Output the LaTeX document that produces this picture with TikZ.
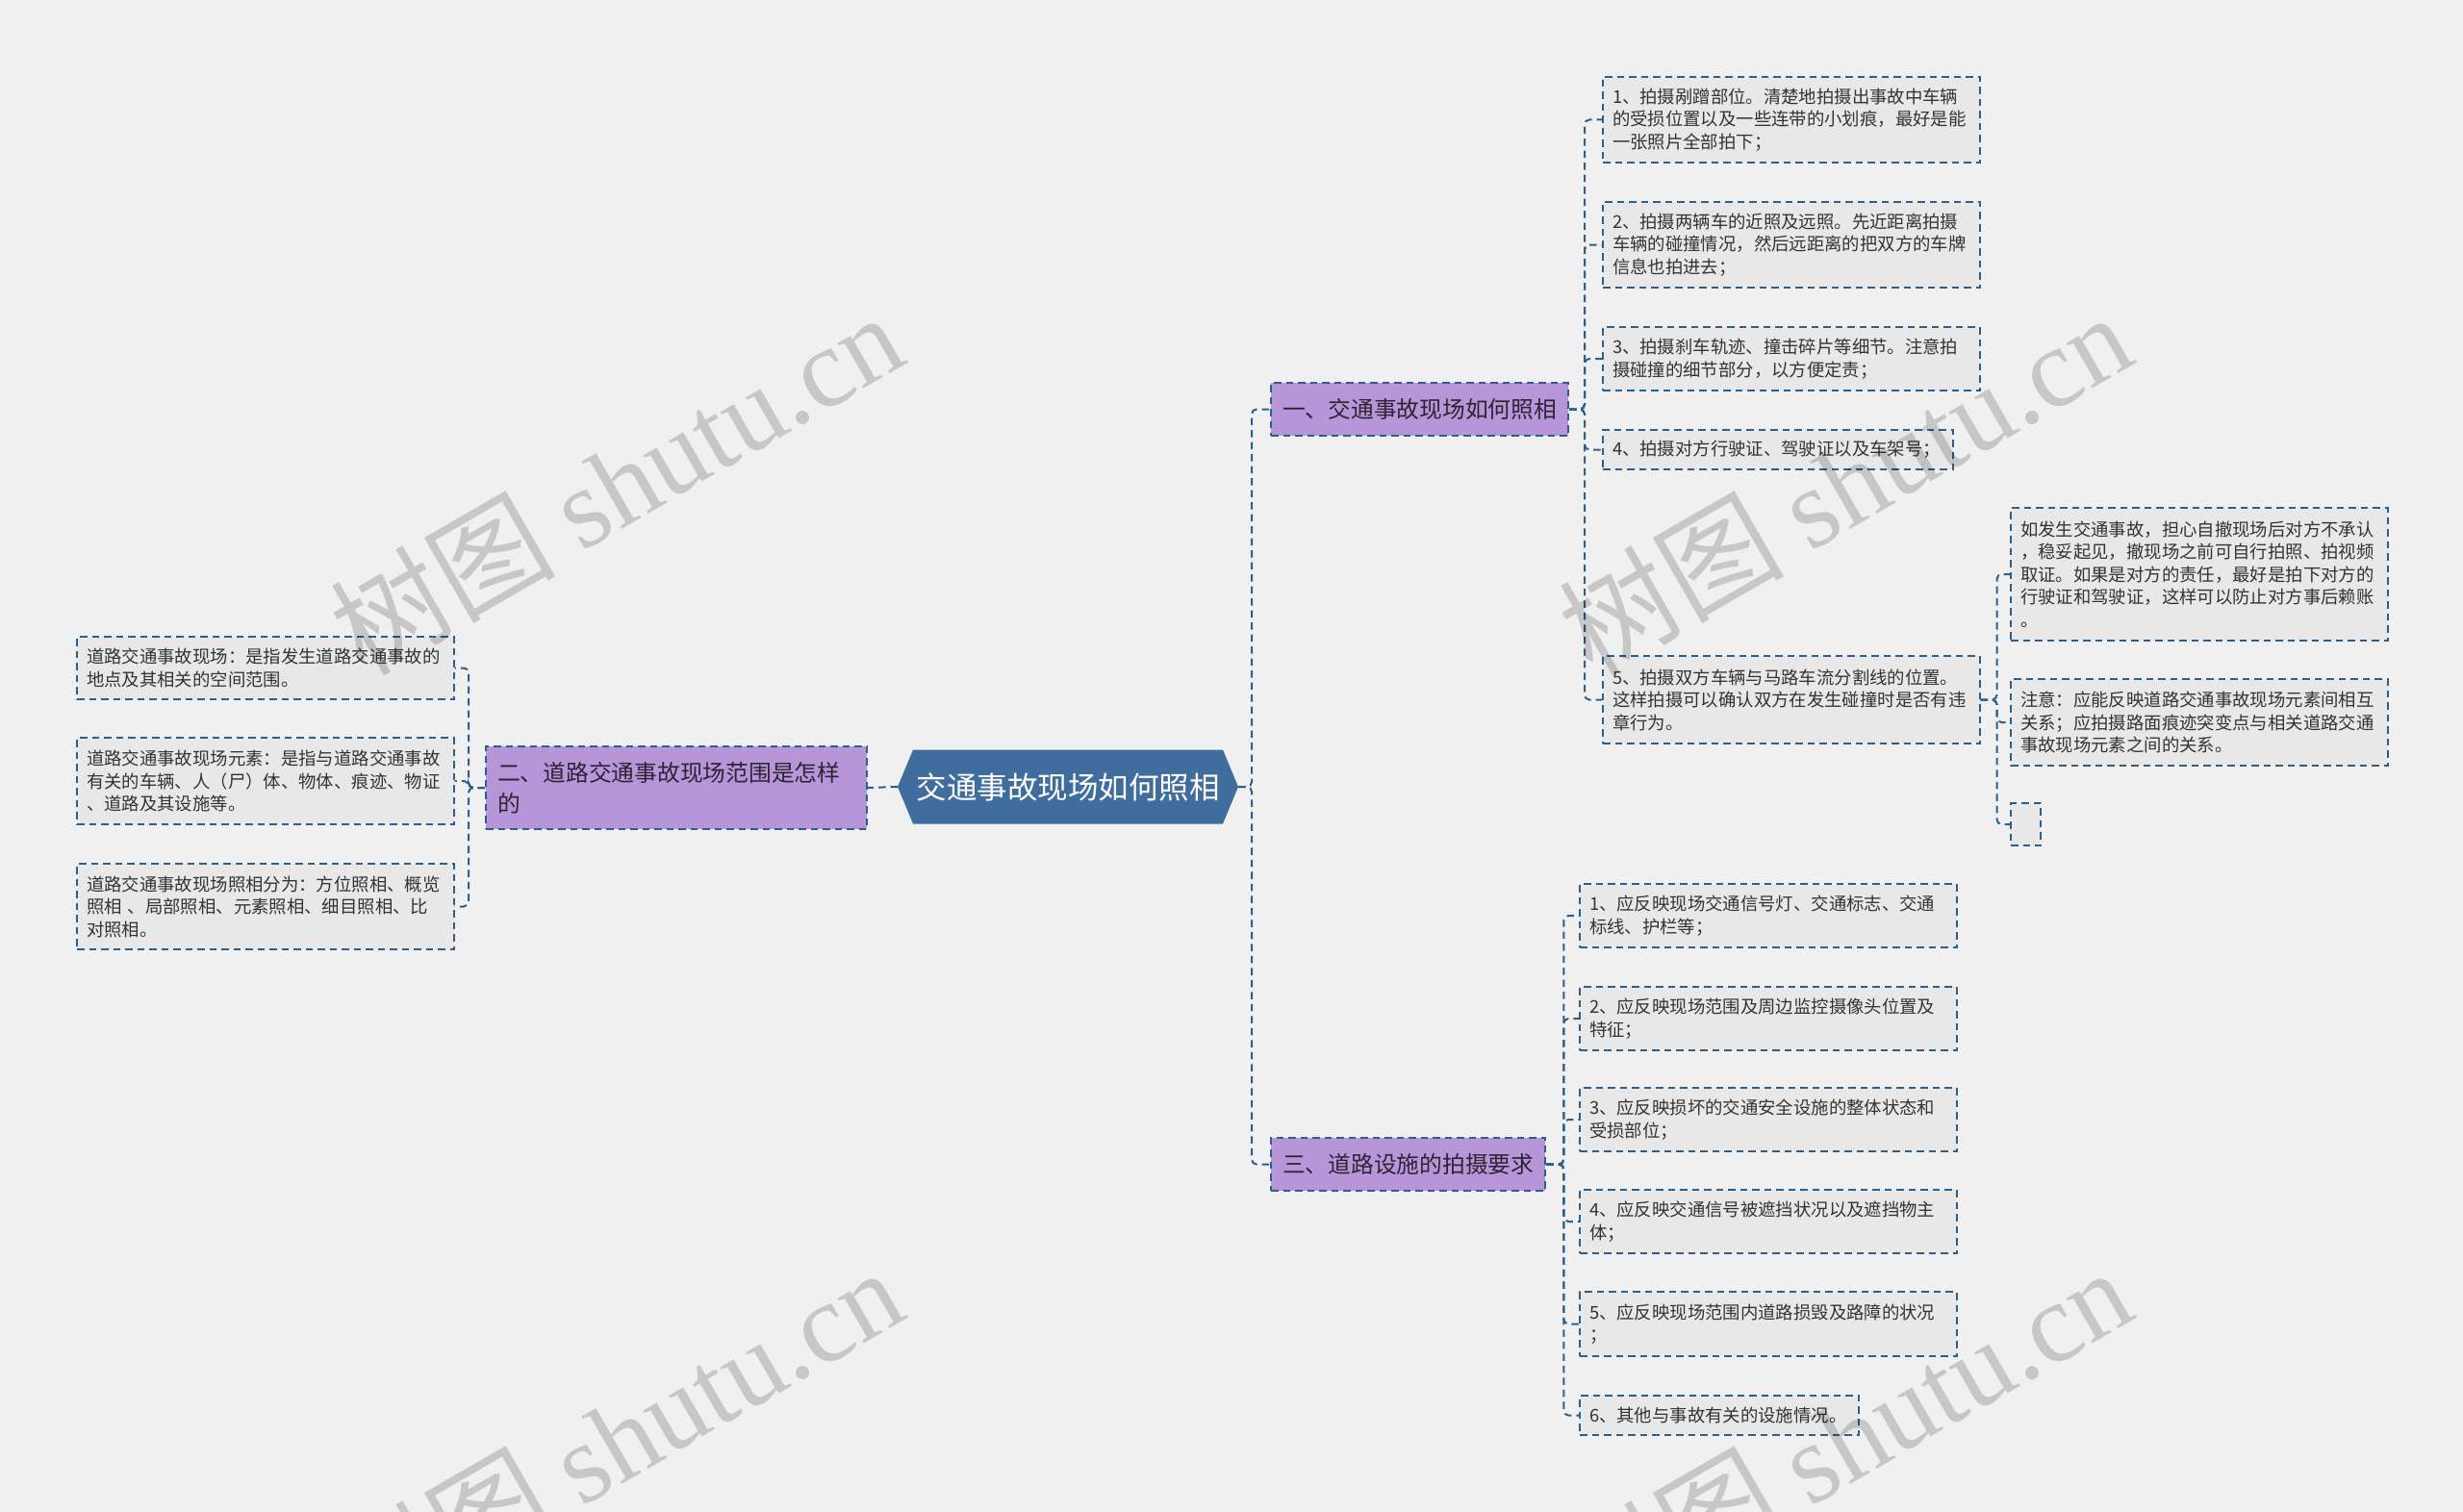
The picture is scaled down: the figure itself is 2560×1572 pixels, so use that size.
\documentclass[tikz,border=0pt]{standalone}
\usepackage{fontspec}
\setmainfont{Noto Sans CJK SC}
\newfontfamily\wmlatin{Liberation Serif}
\usetikzlibrary{backgrounds}
\definecolor{bgc}{HTML}{F0F0F0}
\definecolor{linec}{HTML}{2D5F8B}
\definecolor{leaff}{HTML}{E8E8E8}
\definecolor{brf}{HTML}{B696D9}
\definecolor{rootc}{HTML}{3F6E9E}
\definecolor{txt}{HTML}{333333}
\definecolor{brtxt}{HTML}{2E2233}
\begin{document}
\begin{tikzpicture}[x=0.4pt,y=-0.4pt,
  conn/.style={draw=linec, line width=0.8pt, dash pattern=on 3pt off 2pt, rounded corners=2pt},
  leaf/.style={draw=linec, fill=leaff, line width=0.8pt, dash pattern=on 3pt off 2pt,
    inner xsep=4pt, inner ysep=0pt, anchor=west, align=left, text=txt,
    font=\fontsize{7.35}{9.4}\selectfont, text width=148.6pt},
  branch/.style={draw=linec, fill=brf, line width=0.8pt, dash pattern=on 3pt off 2pt,
    inner xsep=4.8pt, inner ysep=0pt, anchor=west, align=left, text=brtxt,
    font=\fontsize{9.5}{13}\selectfont, minimum height=22pt},
  wm/.style={text=black, text opacity=0.17, font=\fontsize{47}{47}\selectfont, rotate=30, inner sep=0pt}
]
\clip (0,0) rectangle (2560,1572);
\useasboundingbox (0,0) rectangle (2560,1572);

% root
\node[inner xsep=0pt, inner ysep=0pt, minimum width=128.4pt, minimum height=30.4pt,
  text=white, font=\fontsize{12.6}{14}\selectfont] (root) at (1110,818) {交通事故现场如何照相};

% branches
\node[branch] (b1) at (1320,425.5) {一、交通事故现场如何照相};
\node[branch, text width=148.8pt, minimum height=34.4pt] (b2) at (504,819) {二、道路交通事故现场范围是怎样\\的};
\node[branch] (b3) at (1320,1210.5) {三、道路设施的拍摄要求};

% branch 1 leaves
\node[leaf, minimum height=35.6pt] (l11) at (1665,124.5) {1、拍摄剐蹭部位。清楚地拍摄出事故中车辆\\的受损位置以及一些连带的小划痕，最好是能\\一张照片全部拍下；};
\node[leaf, minimum height=35.6pt] (l12) at (1665,254.5) {2、拍摄两辆车的近照及远照。先近距离拍摄\\车辆的碰撞情况，然后远距离的把双方的车牌\\信息也拍进去；};
\node[leaf, minimum height=26.4pt] (l13) at (1665,373) {3、拍摄刹车轨迹、撞击碎片等细节。注意拍\\摄碰撞的细节部分，以方便定责；};
\node[leaf, minimum height=16.4pt, text width=137.6pt] (l14) at (1665,467.5) {4、拍摄对方行驶证、驾驶证以及车架号；};
\node[leaf, minimum height=36.4pt] (l15) at (1665,727.5) {5、拍摄双方车辆与马路车流分割线的位置。\\这样拍摄可以确认双方在发生碰撞时是否有违\\章行为。};

% sub leaves of l15
\node[leaf, minimum height=55.2pt] (s1) at (2089,597) {如发生交通事故，担心自撤现场后对方不承认\\，稳妥起见，撤现场之前可自行拍照、拍视频\\取证。如果是对方的责任，最好是拍下对方的\\行驶证和驾驶证，这样可以防止对方事后赖账\\。};
\node[leaf, minimum height=36pt] (s2) at (2089,751) {注意：应能反映道路交通事故现场元素间相互\\关系；应拍摄路面痕迹突变点与相关道路交通\\事故现场元素之间的关系。};
\node[leaf, text width=0pt, inner xsep=0pt, minimum width=12.4pt, minimum height=17.6pt] (s3) at (2089,857) {};

% branch 2 leaves
\node[leaf, minimum height=26pt] (la) at (79,694.5) {道路交通事故现场：是指发生道路交通事故的\\地点及其相关的空间范围。};
\node[leaf, minimum height=36pt] (lb) at (79,812) {道路交通事故现场元素：是指与道路交通事故\\有关的车辆、人（尸）体、物体、痕迹、物证\\、道路及其设施等。};
\node[leaf, minimum height=35.6pt] (lc) at (79,942.5) {道路交通事故现场照相分为：方位照相、概览\\照相 、局部照相、元素照相、细目照相、比\\对照相。};

% branch 3 leaves
\node[leaf, minimum height=26.4pt] (l31) at (1641,952) {1、应反映现场交通信号灯、交通标志、交通\\标线、护栏等；};
\node[leaf, minimum height=26.4pt] (l32) at (1641,1059) {2、应反映现场范围及周边监控摄像头位置及\\特征；};
\node[leaf, minimum height=26.4pt] (l33) at (1641,1164) {3、应反映损坏的交通安全设施的整体状态和\\受损部位；};
\node[leaf, minimum height=26.4pt] (l34) at (1641,1270) {4、应反映交通信号被遮挡状况以及遮挡物主\\体；};
\node[leaf, minimum height=26.8pt] (l35) at (1641,1376.5) {5、应反映现场范围内道路损毁及路障的状况\\；};
\node[leaf, minimum height=16.4pt, text width=108pt] (l36) at (1641,1471.5) {6、其他与事故有关的设施情况。};

\begin{pgfonlayer}{background}
\fill[bgc] (0,0) rectangle (2560,1572);
\fill[rootc] ([xshift=-6.4pt]root.west) -- (root.north west) -- (root.north east)
  -- ([xshift=6.4pt]root.east) -- (root.south east) -- (root.south west) -- cycle;
\end{pgfonlayer}

% connectors
\draw[conn] ([xshift=-6.4pt]root.west) -- (b2.east);
\foreach \t in {b1,b3} \draw[conn] ([xshift=6.4pt]root.east) -- ++(14,0) |- (\t.west);
\foreach \t in {l11,l12,l13,l14,l15} \draw[conn] (b1.east) -- ++(16,0) |- (\t.west);
\foreach \t in {s1,s2,s3} \draw[conn] (l15.east) -- ++(17,0) |- (\t.west);
\foreach \t in {la,lb,lc} \draw[conn] (b2.west) -- ++(-17,0) |- (\t.east);
\foreach \t in {l31,l32,l33,l34,l35,l36} \draw[conn] (b3.east) -- ++(18,0) |- (\t.west);

% watermarks
\node[wm] (wm1) at (640,502) {树图 {\wmlatin shutu.cn}};
\node[wm] (wm2) at (1917,502) {树图 {\wmlatin shutu.cn}};
\node[wm] (wm3) at (640,1495) {树图 {\wmlatin shutu.cn}};
\node[wm] (wm4) at (1917,1495) {树图 {\wmlatin shutu.cn}};
\end{tikzpicture}
\end{document}
